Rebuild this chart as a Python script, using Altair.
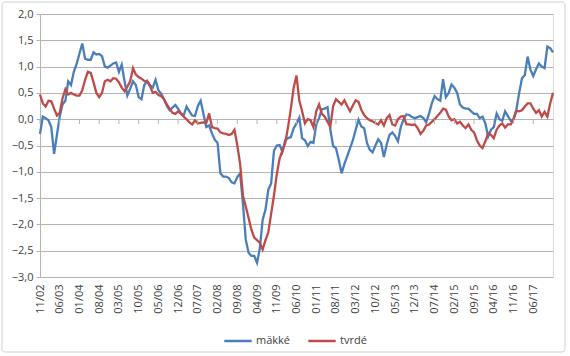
import altair as alt
import pandas as pd

# monthly categories 11/02 .. 01/18
months = pd.date_range("2002-11-01", periods=183, freq="MS").strftime("%m/%y").tolist()

tick_labels = ["11/02", "06/03", "01/04", "08/04", "03/05", "10/05", "05/06", "12/06",
               "07/07", "02/08", "09/08", "04/09", "11/09", "06/10", "01/11", "08/11",
               "03/12", "10/12", "05/13", "12/13", "07/14", "02/15", "09/15", "04/16",
               "11/16", "06/17"]

y_ticks = [-3.0, -2.5, -2.0, -1.5, -1.0, -0.5, 0.0, 0.5, 1.0, 1.5, 2.0]

makke = [
    -0.28, 0.05, 0.02, -0.02, -0.15, -0.66, -0.3, 0.05, 0.28, 0.35,
    0.72, 0.65, 0.9, 1.05, 1.25, 1.44, 1.15, 1.13, 1.13, 1.27,
    1.23, 1.24, 1.2, 1.0, 0.98, 1.02, 1.06, 1.08, 0.9, 1.04,
    0.72, 0.45, 0.58, 0.72, 0.65, 0.42, 0.38, 0.65, 0.73, 0.65,
    0.6, 0.75, 0.55, 0.48, 0.38, 0.25, 0.17, 0.22, 0.27, 0.2,
    0.11, 0.08, 0.24, 0.15, 0.07, 0.06, 0.25, 0.35, 0.1, -0.15,
    -0.12, -0.27, -0.39, -0.45, -1.03, -1.09, -1.09, -1.12, -1.2, -1.22,
    -1.1, -1.03, -1.6, -2.29, -2.54, -2.6, -2.6, -2.73, -2.45, -1.91,
    -1.72, -1.34, -1.22, -0.6, -0.5, -0.49, -0.62, -0.4, -0.36, -0.34,
    -0.17, -0.08, 0.03, -0.36, -0.4, -0.51, -0.43, -0.45, -0.1, 0.02,
    0.19, 0.2, 0.23, -0.2, -0.51, -0.55, -0.77, -1.03, -0.85, -0.7,
    -0.55, -0.4, -0.2, -0.01, -0.14, -0.17, -0.45, -0.58, -0.63, -0.5,
    -0.38, -0.45, -0.72, -0.48, -0.3, -0.25, -0.32, -0.42, -0.15, 0.0,
    0.09, 0.08, 0.04, 0.02, 0.04, 0.06, 0.02, -0.06, 0.1, 0.3,
    0.44, 0.38, 0.35, 0.76, 0.42, 0.5, 0.66, 0.6, 0.5, 0.28,
    0.22, 0.2, 0.2, 0.15, 0.1, 0.1, 0.02, 0.05, -0.08, -0.33,
    -0.2, -0.15, 0.11, 0.0, -0.03, 0.15, 0.06, -0.03, 0.0, 0.18,
    0.5, 0.78, 0.84, 1.19, 0.94, 0.82, 0.95, 1.06, 1.0, 0.97,
    1.38, 1.35, 1.27,
]

tvrde = [
    0.47, 0.3, 0.24, 0.35, 0.34, 0.2, 0.07, 0.12, 0.4, 0.57,
    0.47, 0.5, 0.47, 0.45, 0.45, 0.55, 0.75, 0.9, 0.88, 0.7,
    0.5, 0.42, 0.5, 0.72, 0.75, 0.72, 0.78, 0.77, 0.7, 0.6,
    0.53, 0.62, 0.72, 0.97, 0.85, 0.8, 0.77, 0.73, 0.72, 0.63,
    0.5, 0.52, 0.46, 0.44, 0.38, 0.28, 0.2, 0.12, 0.1, 0.15,
    0.1, 0.05, 0.0, -0.06, -0.1, -0.02, -0.08, -0.07, -0.06, -0.07,
    0.11, -0.15, -0.17, -0.18, -0.25, -0.27, -0.28, -0.3, -0.28, -0.2,
    -0.5, -0.85, -1.45, -1.66, -1.88, -2.1, -2.25, -2.3, -2.35, -2.48,
    -2.3, -2.15, -1.8, -1.45, -1.05, -0.75, -0.6, -0.45, -0.15, 0.2,
    0.6, 0.83, 0.35, 0.15, -0.08, 0.0, -0.02, -0.15, 0.15, 0.28,
    0.1, 0.05, -0.05, -0.14, 0.25, 0.38, 0.33, 0.28, 0.36, 0.25,
    0.15, 0.26, 0.36, 0.33, 0.18, 0.08, 0.02, -0.02, -0.04, -0.07,
    -0.1, -0.02, -0.12, 0.02, 0.08, -0.1, -0.12, 0.0, 0.05, 0.06,
    -0.1, -0.1, -0.11, -0.1, -0.17, -0.28, -0.22, -0.12, -0.1, -0.05,
    0.0, 0.06, 0.12, 0.2, 0.18, 0.05, -0.02, 0.0, -0.08, -0.05,
    -0.12, -0.17, -0.1, -0.2, -0.25, -0.4, -0.5, -0.55, -0.42, -0.27,
    -0.3, -0.36, -0.2, -0.12, -0.08, -0.16, -0.1, -0.1, 0.0, 0.16,
    0.15, 0.17, 0.24, 0.3, 0.3, 0.2, 0.12, 0.17, 0.05, 0.14,
    0.05, 0.3, 0.5,
]

series_names = ["mäkké", "tvrdé"]
series_colors = ["#4A7EBB", "#BE4B48"]

df = pd.concat([
    pd.DataFrame({"month": months, "idx": list(range(len(months))),
                  "series": series_names[0], "value": makke}),
    pd.DataFrame({"month": months, "idx": list(range(len(months))),
                  "series": series_names[1], "value": tvrde}),
])

FONT = "Open Sans"
LABEL_COLOR = "#404040"
GRID = "#B4B4B4"

xscale = alt.Scale(type="point", domain=months, padding=0)
yscale = alt.Scale(domain=[-3, 2], nice=False, zero=False)

x_axis = alt.Axis(values=tick_labels, labelAngle=270, title=None,
                  domain=False, ticks=False, grid=False,
                  labelPadding=7, labelFont=FONT, labelFontSize=11,
                  labelColor=LABEL_COLOR, labelOverlap=False)
y_axis = alt.Axis(values=y_ticks, title=None, grid=True, gridColor=GRID,
                  gridWidth=1, domain=True, domainColor=GRID,
                  ticks=True, tickSize=4, tickColor=GRID,
                  labelFont=FONT, labelFontSize=11, labelColor=LABEL_COLOR,
                  labelPadding=3, labelOverlap=False,
                  labelExpr="replace(format(datum.value, '.1f'), '.', ',')")

lines = alt.Chart(df).mark_line(strokeWidth=2.3).encode(
    x=alt.X("month:O", scale=xscale, sort=months, axis=x_axis, title=None),
    y=alt.Y("value:Q", scale=yscale, axis=y_axis, title=None),
    color=alt.Color("series:N",
                    scale=alt.Scale(domain=series_names, range=series_colors),
                    legend=alt.Legend(title=None, orient="none", direction="horizontal",
                                      legendX=183, legendY=312,
                                      symbolType="stroke", symbolSize=750,
                                      symbolStrokeWidth=2.5, labelFont=FONT,
                                      labelFontSize=11, labelColor=LABEL_COLOR,
                                      columnPadding=12, labelOffset=3)),
    order=alt.Order("idx:Q"),
)

tick_df = pd.DataFrame({"month": tick_labels, "value": [0.0] * len(tick_labels),
                        "bottom": [-0.09] * len(tick_labels)})
ticks = alt.Chart(tick_df).mark_rule(color=GRID, strokeWidth=1).encode(
    x=alt.X("month:O", scale=xscale, sort=months, axis=x_axis, title=None),
    y=alt.Y("value:Q", scale=yscale, axis=y_axis, title=None),
    y2="bottom:Q",
)

frame = alt.Chart(pd.DataFrame({"a": [0]})).mark_rect(
    filled=False, stroke="#D0D0D0", strokeWidth=1, cornerRadius=3, clip=False
).encode(
    x=alt.value(-38), x2=alt.value(525), y=alt.value(-12), y2=alt.value(338)
)

chart = alt.layer(lines, ticks, frame).properties(
    width=513, height=263,
    padding={"left": 40, "top": 14, "right": 17, "bottom": 79},
    autosize=alt.AutoSizeParams(type="none"),
).configure_view(stroke=None).configure(background="white")

chart.save("out.html", embed_options={"renderer": "svg", "actions": False})
